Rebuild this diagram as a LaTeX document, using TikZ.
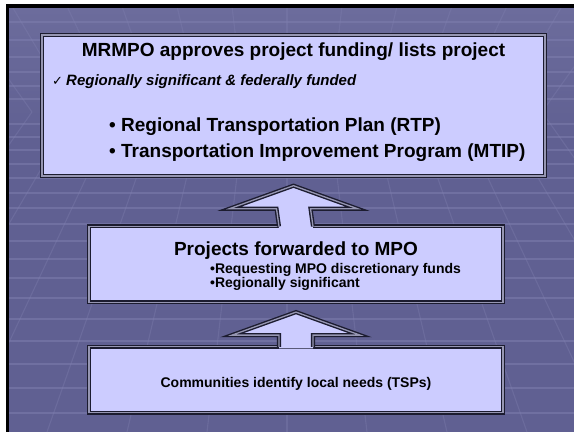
\documentclass[tikz,border=0pt]{standalone}
\usepackage{fontspec}
\setmainfont{Liberation Sans}
\newfontfamily\symfont{DejaVu Sans}
\usetikzlibrary{positioning, calc}

\definecolor{slide}{RGB}{96,96,146}
\definecolor{slidetop}{RGB}{108,108,156}
\definecolor{gridline}{RGB}{128,128,176}
\definecolor{boxfill}{RGB}{204,204,255}
\definecolor{rim}{RGB}{28,28,48}
\definecolor{rimgap}{RGB}{150,150,178}

% block arrow rising from the top of #1 to just under #2
\newcommand{\risearrow}[2]{%
  \coordinate (tip) at ($(#2.south)+(0,9)$);
  \fill[boxfill] ($(#1.north)+(-17,2.2)$) -- ($(tip)+(-17,23)$) -- ($(tip)+(-64,23)$)
    -- (tip) -- ($(tip)+(64,23)$) -- ($(tip)+(17,23)$) -- ($(#1.north)+(17,2.2)$) -- cycle;
  \draw[rimline] ($(#1.north)+(-17,0.7)$) -- ($(tip)+(-17,23)$) -- ($(tip)+(-64,23)$)
    -- (tip) -- ($(tip)+(64,23)$) -- ($(tip)+(17,23)$) -- ($(#1.north)+(17,0.7)$);
}

\begin{document}
\begin{tikzpicture}[
    x=1pt, y=-1pt,
    % Styles
    rimline/.style={draw=rim, line width=1.4pt, double=rimgap, double distance=1.3pt, line join=miter},
    stage/.style={rimline, fill=boxfill, inner sep=0pt},
    headtext/.style={font=\bfseries\fontsize{19}{22}\selectfont, anchor=base, inner sep=0pt},
    bigitem/.style={font=\bfseries\fontsize{19}{22}\selectfont, anchor=base west, inner sep=0pt},
    smallitem/.style={font=\bfseries\fontsize{14}{16}\selectfont, anchor=base west, inner sep=0pt},
    grid_line/.style={draw=gridline, line width=1.1pt, opacity=0.5}
]
\useasboundingbox (0,0) rectangle (574,432);

% Slide frame and backdrop
\fill[white] (0,0) rectangle (574,432);
\fill[black] (6,4) rectangle (574,432);
\begin{scope}
  \clip (9,8) rectangle (574,432);
  \shade[top color=slidetop, bottom color=slide] (9,8) rectangle (574,140);
  \fill[slide] (9,140) rectangle (574,432);
  % ceiling and floor rulings
  \foreach \y in {22,40,57,72,86,99,124,137,150,164,178,193,208,224,241,259,278,298,319,341,364,388,413}
    \draw[grid_line] (9,\y) -- (574,\y);
  \foreach \k in {-6,...,6} {
    \draw[grid_line, opacity=0.35] (287+42.5*\k,112) -- (287+80*\k,432);
    \draw[grid_line, opacity=0.35] (287+42.5*\k,112) -- (287+54.8*\k,8);
  }
\end{scope}

% 1. MRMPO approval
\node[stage, minimum width=503pt, minimum height=141pt] (approve) at (293.5,105.5) {};
\node[headtext] (approveTitle) at ($(approve.north)+(0,22)$) {MRMPO approves project funding/ lists project};
\node[anchor=base west, inner sep=0pt, font=\symfont\fontsize{13}{15}\selectfont] (check) at (52,85) {✓};
\node[anchor=base west, inner sep=0pt, font=\bfseries\itshape\fontsize{15}{18}\selectfont] (criteria) at (66,85) {Regionally significant \& federally funded};
\node[bigitem] (rtp) at (109,131) {• Regional Transportation Plan (RTP)};
\node[bigitem] (mtip) at (109,157) {• Transportation Improvement Program (MTIP)};

% 2. Projects forwarded
\node[stage, minimum width=414pt, minimum height=76pt, below=49pt of approve, xshift=2.5pt] (forward) {};
\node[headtext] (forwardTitle) at ($(forward.north)+(0,30)$) {Projects forwarded to MPO};
\node[smallitem] (funds) at (210,273) {•Requesting MPO discretionary funds};
\node[smallitem] (signif) at (210,287) {•Regionally significant};

% 3. Local needs
\node[stage, minimum width=414pt, minimum height=66pt, below=43pt of forward] (local) {};
\node[anchor=base, inner sep=0pt, font=\bfseries\fontsize{14}{16}\selectfont] (localText) at ($(local.center)+(0,8)$) {Communities identify local needs (TSPs)};

% Arrows
\risearrow{forward}{approve}
\risearrow{local}{forward}

\end{tikzpicture}
\end{document}
